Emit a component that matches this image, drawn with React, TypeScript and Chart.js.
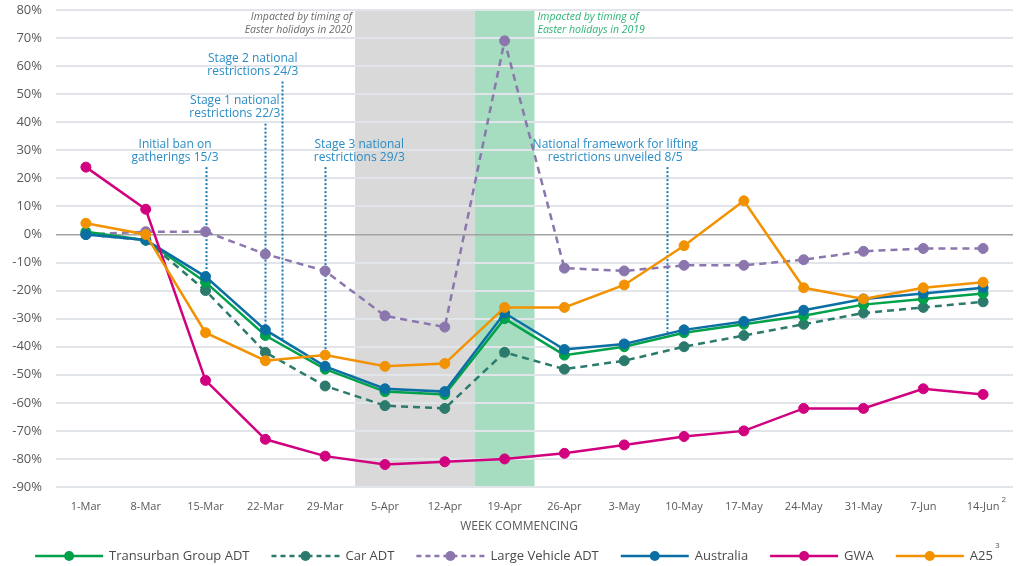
import React, { useEffect, useRef } from 'react';
import { Chart, registerables } from 'chart.js';

Chart.register(...registerables);

const weeks = ['1-Mar', '8-Mar', '15-Mar', '22-Mar', '29-Mar', '5-Apr', '12-Apr', '19-Apr', '26-Apr', '3-May', '10-May', '17-May', '24-May', '31-May', '7-Jun', '14-Jun'];

const transurbanADT = [1, -2, -17, -36, -48, -56, -57, -30, -43, -40, -35, -32, -29, -25, -23, -21];
const carADT = [0, -2, -20, -42, -54, -61, -62, -42, -48, -45, -40, -36, -32, -28, -26, -24];
const largeVehicleADT = [0, 1, 1, -7, -13, -29, -33, 69, -12, -13, -11, -11, -9, -6, -5, -5];
const australia = [0, -2, -15, -34, -47, -55, -56, -28, -41, -39, -34, -31, -27, -23, -21, -19];
const gwa = [24, 9, -52, -73, -79, -82, -81, -80, -78, -75, -72, -70, -62, -62, -55, -57];
const a25 = [4, 0, -35, -45, -43, -47, -46, -26, -26, -18, -4, 12, -19, -23, -19, -17];

const yMin = -90;
const yMax = 80;
const yStep = 10;

// Event annotations: week index (fractional), dotted-line top & bottom values (%), label x (week index)
const eventLabels = [
  ['Initial ban on', 'gatherings 15/3'],
  ['Stage 1 national', 'restrictions 22/3'],
  ['Stage 2 national', 'restrictions 24/3'],
  ['Stage 3 national', 'restrictions 29/3'],
  ['National framework for lifting', 'restrictions unveiled 8/5'],
];
const eventAt = [2, 3, 3 + 2 / 7, 4, 9 + 5 / 7];
const eventTop = [24, 39.5, 54.5, 24, 24];
const eventBottom = [-15, -34, -38, -43, -35];
const eventLabelAt = [1.49, 2.49, 2.79, 4.57, 8.85];

const easter2020Label = ['Impacted by timing of', 'Easter holidays in 2020'];
const easter2019Label = ['Impacted by timing of', 'Easter holidays in 2019'];
const easter2020Band = [4.5, 6.5];
const easter2019Band = [6.5, 7.5];

const FONT = "'Open Sans', sans-serif";

const overlayPlugin = {
  id: 'overlay',
  beforeDraw(chart: any) {
    const { ctx, chartArea, scales } = chart;
    const x = scales.x;
    ctx.save();
    const g0 = x.getPixelForValue(easter2020Band[0]);
    const g1 = x.getPixelForValue(easter2020Band[1]);
    ctx.fillStyle = '#d9d9d9';
    ctx.fillRect(g0, chartArea.top, g1 - g0, chartArea.bottom - chartArea.top);
    const e0 = x.getPixelForValue(easter2019Band[0]);
    const e1 = x.getPixelForValue(easter2019Band[1]);
    ctx.fillStyle = '#a6dcbf';
    ctx.fillRect(e0, chartArea.top, e1 - e0, chartArea.bottom - chartArea.top);
    ctx.restore();
  },
  beforeDatasetsDraw(chart: any) {
    const { ctx, scales } = chart;
    const x = scales.x;
    const y = scales.y;
    ctx.save();
    ctx.strokeStyle = '#1878b4';
    ctx.lineWidth = 2;
    ctx.setLineDash([2, 2]);
    eventAt.forEach((v, i) => {
      const px = Math.round(x.getPixelForValue(v)) + 0.5;
      ctx.beginPath();
      ctx.moveTo(px, y.getPixelForValue(eventTop[i]));
      ctx.lineTo(px, y.getPixelForValue(eventBottom[i]));
      ctx.stroke();
    });
    ctx.restore();
  },
  afterDraw(chart: any) {
    const { ctx, scales, chartArea } = chart;
    const x = scales.x;
    const y = scales.y;
    ctx.save();
    // event labels
    ctx.font = `12px ${FONT}`;
    ctx.fillStyle = '#2a8cc4';
    ctx.textAlign = 'center';
    ctx.textBaseline = 'middle';
    eventLabels.forEach((lines, i) => {
      const cx = x.getPixelForValue(eventLabelAt[i]);
      const lastY = y.getPixelForValue(eventTop[i]) - 10;
      lines.forEach((t, j) => {
        ctx.fillText(t, cx, lastY - (lines.length - 1 - j) * 13);
      });
    });
    // Easter labels
    ctx.font = `italic 10.5px ${FONT}`;
    ctx.fillStyle = '#6a6a6a';
    ctx.textAlign = 'right';
    const gx = x.getPixelForValue(easter2020Band[0]) - 3;
    easter2020Label.forEach((t, j) => ctx.fillText(t, gx, chartArea.top + 7 + j * 13));
    ctx.fillStyle = '#2eb574';
    ctx.textAlign = 'left';
    const ex = x.getPixelForValue(easter2019Band[1]) + 3;
    easter2019Label.forEach((t, j) => ctx.fillText(t, ex, chartArea.top + 7 + j * 13));

    // superscript on last tick
    ctx.font = `11px ${FONT}`;
    const lastW = ctx.measureText(weeks[weeks.length - 1]).width;
    const sx = x.getPixelForValue(weeks.length - 1) + lastW / 2 + 2;
    ctx.font = `8px ${FONT}`;
    ctx.fillStyle = '#595959';
    ctx.textAlign = 'left';
    ctx.fillText('2', sx, chartArea.bottom + 13);

    // axis title
    ctx.font = `12px ${FONT}`;
    ctx.textAlign = 'center';
    ctx.fillStyle = '#595959';
    ctx.fillText('WEEK COMMENCING', 519, chartArea.bottom + 40);

    // legend
    ctx.font = `13px ${FONT}`;
    const lineW = 68;
    const gapText = 6;
    const gapItem = 22;
    const items = chart.data.datasets.map((ds: any) => ({
      label: ds.label,
      color: ds.borderColor,
      dash: ds.borderDash ? [5, 4] : [],
      w: ctx.measureText(ds.label).width,
    }));
    const total = items.reduce((s: number, it: any) => s + lineW + gapText + it.w, 0) + gapItem * (items.length - 1);
    let lx = 514 - total / 2;
    const ly = 556;
    items.forEach((it: any, i: number) => {
      ctx.strokeStyle = it.color;
      ctx.lineWidth = 2.5;
      ctx.setLineDash(it.dash);
      ctx.beginPath();
      ctx.moveTo(lx, ly);
      ctx.lineTo(lx + lineW, ly);
      ctx.stroke();
      ctx.setLineDash([]);
      ctx.fillStyle = it.color;
      ctx.beginPath();
      ctx.arc(lx + lineW / 2, ly, 5, 0, Math.PI * 2);
      ctx.fill();
      ctx.fillStyle = '#4a4a4a';
      ctx.textAlign = 'left';
      ctx.textBaseline = 'middle';
      ctx.fillText(it.label, lx + lineW + gapText, ly);
      if (i === items.length - 1) {
        ctx.font = `8px ${FONT}`;
        ctx.fillText('3', lx + lineW + gapText + it.w + 2, ly - 10);
        ctx.font = `13px ${FONT}`;
      }
      lx += lineW + gapText + it.w + gapItem;
    });
    ctx.restore();
  },
};

function App() {
  const ref = useRef<HTMLCanvasElement | null>(null);

  useEffect(() => {
    if (!ref.current) return;
    Chart.defaults.font.family = FONT;
    const mk = (label: string, data: number[], color: string, order: number, dashed = false) => ({
      label,
      data,
      borderColor: color,
      backgroundColor: color,
      pointBackgroundColor: color,
      pointBorderColor: color,
      borderWidth: 2.5,
      borderDash: dashed ? [7, 5] : undefined,
      pointRadius: 5,
      pointBorderWidth: 1,
      tension: 0,
      order,
    });
    const chart = new Chart(ref.current, {
      type: 'line',
      data: {
        labels: weeks,
        datasets: [
          mk('Transurban Group ADT', transurbanADT, '#00a14b', 4),
          mk('Car ADT', carADT, '#2b7a6c', 5, true),
          mk('Large Vehicle ADT', largeVehicleADT, '#8b76ae', 6, true),
          mk('Australia', australia, '#0b6fa4', 3),
          mk('GWA', gwa, '#d0007e', 2),
          mk('A25', a25, '#f39200', 1),
        ] as any,
      },
      options: {
        animation: false,
        responsive: false,
        maintainAspectRatio: false,
        layout: { padding: { top: 0, right: 11, bottom: 31, left: 0 } },
        plugins: { legend: { display: false }, tooltip: { enabled: false } },
        scales: {
          x: {
            type: 'category',
            offset: true,
            grid: { display: false, drawTicks: false },
            border: { display: false },
            ticks: { color: '#595959', font: { size: 11, family: FONT }, padding: 13, maxRotation: 0, autoSkip: false },
            afterFit: (s: any) => { s.height = 48; },
          },
          y: {
            min: yMin,
            max: yMax,
            grid: {
              drawTicks: false,
              color: (c: any) => (c.tick && c.tick.value === 0 ? '#a3a3a3' : '#e1e4e8'),
              lineWidth: (c: any) => (c.tick && c.tick.value === 0 ? 1.5 : 2),
            },
            border: { display: false },
            ticks: {
              stepSize: yStep,
              color: '#595959',
              font: { size: 13, family: FONT },
              padding: 14,
              callback: (v: any) => `${v}%`,
            },
            afterFit: (s: any) => { s.width = 56; s.paddingTop = 10; },
          },
        },
      },
      plugins: [overlayPlugin],
    } as any);
    return () => chart.destroy();
  }, []);

  return (
    <div style={{ position: 'fixed', left: 0, top: 0, width: 1024, height: 566, background: '#fff' }}>
      <canvas ref={ref} width={1024} height={566} style={{ display: 'block', width: 1024, height: 566 }} />
    </div>
  );
}

export default App;
